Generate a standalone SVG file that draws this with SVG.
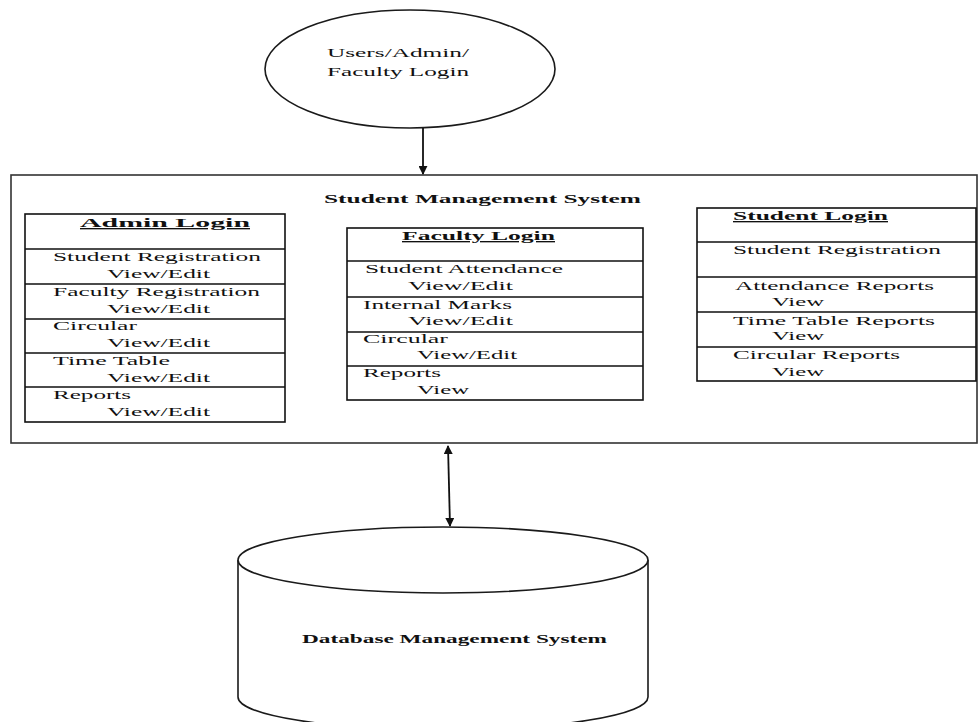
<svg xmlns="http://www.w3.org/2000/svg" width="978" height="722" viewBox="0 0 978 722">
<defs>
<style>
.t{font-family:"Liberation Serif","Times New Roman",serif;font-size:13.5px;fill:#111}
.b{font-weight:bold}
.u{text-decoration:underline}
.box{fill:#fff;stroke:#111;stroke-width:1.6}
.ln{stroke:#111;stroke-width:1.4;fill:none}
.shape{fill:#fff;stroke:#1a1a1a;stroke-width:1.6}
.conn{stroke:#111;stroke-width:1.8;fill:none}
</style>
<marker id="ah" viewBox="0 0 10 10" refX="9" refY="5" markerWidth="5" markerHeight="5" orient="auto-start-reverse" markerUnits="strokeWidth">
<path d="M0,0 L10,5 L0,10 Z" fill="#111"/>
</marker>
</defs>
<rect width="978" height="722" fill="#fff"/>

<g id="login-ellipse">
<ellipse class="shape" cx="410" cy="69" rx="145" ry="59"/>
<text class="t" x="327" y="57" textLength="142" lengthAdjust="spacingAndGlyphs">Users/Admin/</text>
<text class="t" x="327" y="76" textLength="142" lengthAdjust="spacingAndGlyphs">Faculty Login</text>
</g>

<g id="sms">
<rect x="11" y="175" width="966" height="268" fill="#fff" stroke="#333" stroke-width="1.6"/>
<text class="t b" x="324" y="203" textLength="317" lengthAdjust="spacingAndGlyphs">Student Management System</text>
</g>

<g id="admin-login">
<rect class="box" x="25" y="214" width="260" height="208"/>
<path class="ln" d="M25,249 H285 M25,284 H285 M25,319 H285 M25,353 H285 M25,387 H285"/>
<text class="t b u" x="80" y="227" textLength="170" lengthAdjust="spacingAndGlyphs">Admin Login</text>
<text class="t" x="53" y="261" textLength="208" lengthAdjust="spacingAndGlyphs">Student Registration</text>
<text class="t" x="107" y="278" textLength="103" lengthAdjust="spacingAndGlyphs">View/Edit</text>
<text class="t" x="53" y="296" textLength="207" lengthAdjust="spacingAndGlyphs">Faculty Registration</text>
<text class="t" x="107" y="313" textLength="103" lengthAdjust="spacingAndGlyphs">View/Edit</text>
<text class="t" x="53" y="330" textLength="84" lengthAdjust="spacingAndGlyphs">Circular</text>
<text class="t" x="107" y="347" textLength="103" lengthAdjust="spacingAndGlyphs">View/Edit</text>
<text class="t" x="53" y="365" textLength="117" lengthAdjust="spacingAndGlyphs">Time Table</text>
<text class="t" x="107" y="382" textLength="103" lengthAdjust="spacingAndGlyphs">View/Edit</text>
<text class="t" x="53" y="399" textLength="78" lengthAdjust="spacingAndGlyphs">Reports</text>
<text class="t" x="107" y="416" textLength="103" lengthAdjust="spacingAndGlyphs">View/Edit</text>
</g>

<g id="faculty-login">
<rect class="box" x="347" y="228" width="296" height="172"/>
<path class="ln" d="M347,261 H643 M347,297 H643 M347,332 H643 M347,366 H643"/>
<text class="t b u" x="402" y="240" textLength="153" lengthAdjust="spacingAndGlyphs">Faculty Login</text>
<text class="t" x="365" y="273" textLength="198" lengthAdjust="spacingAndGlyphs">Student Attendance</text>
<text class="t" x="408" y="290" textLength="105" lengthAdjust="spacingAndGlyphs">View/Edit</text>
<text class="t" x="363" y="309" textLength="149" lengthAdjust="spacingAndGlyphs">Internal Marks</text>
<text class="t" x="408" y="325" textLength="105" lengthAdjust="spacingAndGlyphs">View/Edit</text>
<text class="t" x="363" y="343" textLength="85" lengthAdjust="spacingAndGlyphs">Circular</text>
<text class="t" x="417" y="359" textLength="100" lengthAdjust="spacingAndGlyphs">View/Edit</text>
<text class="t" x="363" y="377" textLength="78" lengthAdjust="spacingAndGlyphs">Reports</text>
<text class="t" x="417" y="394" textLength="52" lengthAdjust="spacingAndGlyphs">View</text>
</g>

<g id="student-login">
<rect class="box" x="697" y="208" width="279" height="173"/>
<path class="ln" d="M697,242 H976 M697,277 H976 M697,312 H976 M697,347 H976"/>
<text class="t b u" x="733" y="220" textLength="155" lengthAdjust="spacingAndGlyphs">Student Login</text>
<text class="t" x="733" y="254" textLength="208" lengthAdjust="spacingAndGlyphs">Student Registration</text>
<text class="t" x="735" y="290" textLength="199" lengthAdjust="spacingAndGlyphs">Attendance Reports</text>
<text class="t" x="772" y="306" textLength="52" lengthAdjust="spacingAndGlyphs">View</text>
<text class="t" x="733" y="325" textLength="202" lengthAdjust="spacingAndGlyphs">Time Table Reports</text>
<text class="t" x="772" y="340" textLength="52" lengthAdjust="spacingAndGlyphs">View</text>
<text class="t" x="733" y="359" textLength="167" lengthAdjust="spacingAndGlyphs">Circular Reports</text>
<text class="t" x="772" y="376" textLength="52" lengthAdjust="spacingAndGlyphs">View</text>
</g>

<g id="database">
<path class="shape" d="M238,560 V697 A205,33 0 0 0 648,697 V560"/>
<ellipse class="shape" cx="443" cy="560" rx="205" ry="33"/>
<text class="t b" x="302" y="643" font-size="13" textLength="305" lengthAdjust="spacingAndGlyphs">Database Management System</text>
</g>

<g id="connectors">
<line class="conn" x1="423" y1="128" x2="423" y2="174" marker-end="url(#ah)"/>
<line class="conn" x1="448" y1="446" x2="450" y2="526" marker-start="url(#ah)" marker-end="url(#ah)"/>
</g>
</svg>
